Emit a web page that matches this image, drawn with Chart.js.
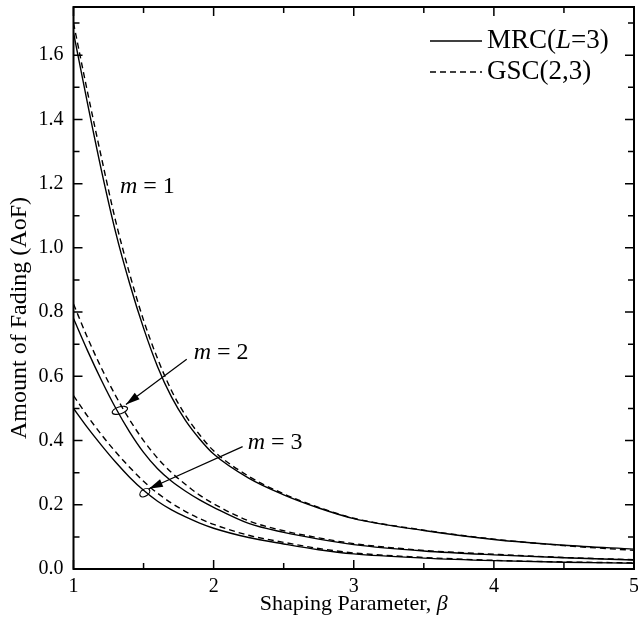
<!DOCTYPE html>
<html>
<head>
<meta charset="utf-8">
<script src="https://cdn.jsdelivr.net/npm/chart.js@4.4.1/dist/chart.umd.min.js"></script>
<style>
html,body{margin:0;padding:0;background:#fff;}
#wrap{width:638px;height:629px;position:relative;}
</style>
</head>
<body>
<div id="wrap"><canvas id="myChart"></canvas></div>
<script>
// shaping parameter beta
var beta=[1,1.1,1.2,1.3,1.4,1.5,1.6,1.7,1.8,1.9,2,2.25,2.5,2.75,3,3.5,4,4.5,5];
// MRC(L=3) solid
var mrc1=[1.67,1.45,1.24,1.05,0.89,0.75,0.63,0.535,0.462,0.405,0.358,0.283,0.231,0.19,0.157,0.12,0.092,0.074,0.062];
var mrc2=[0.78,0.68,0.587,0.502,0.427,0.363,0.312,0.273,0.242,0.215,0.192,0.142,0.114,0.093,0.076,0.056,0.044,0.035,0.028];
var mrc3=[0.50,0.44,0.385,0.333,0.286,0.245,0.211,0.184,0.162,0.143,0.127,0.098,0.078,0.06,0.047,0.034,0.026,0.021,0.018];
// GSC(2,3) dashed
var gsc1=[1.70,1.485,1.28,1.085,0.92,0.775,0.655,0.555,0.478,0.418,0.368,0.289,0.234,0.192,0.158,0.121,0.093,0.073,0.058];
var gsc2=[0.825,0.72,0.625,0.54,0.465,0.40,0.345,0.30,0.263,0.23,0.203,0.15,0.119,0.097,0.079,0.058,0.046,0.036,0.029];
var gsc3=[0.54,0.476,0.418,0.365,0.317,0.273,0.236,0.205,0.179,0.157,0.139,0.105,0.083,0.064,0.05,0.036,0.027,0.022,0.019];

var xTicks=[1,2,3,4,5];
var yTicks=[0,0.2,0.4,0.6,0.8,1.0,1.2,1.4,1.6];

var FONT='"Liberation Serif","Times New Roman",serif';

function pts(arr){
    var out=[];
    for(var i=0;i<beta.length;i++){ out.push({x:beta[i],y:arr[i]}); }
    return out;
}
function ds(arr,dash){
    return {data:pts(arr),borderColor:'#000',borderWidth:1.4,borderDash:dash,pointRadius:0,
        fill:false,cubicInterpolationMode:'monotone'};
}

// rich text: parts = [[text, italic], ...]
function rich(ctx,parts,x,y,size,align){
    var w=0,i;
    for(i=0;i<parts.length;i++){
        ctx.font=(parts[i][1]?'italic ':'')+size+'px '+FONT;
        w+=ctx.measureText(parts[i][0]).width;
    }
    var cx=x;
    if(align==='center') cx=x-w/2;
    ctx.textAlign='left';
    ctx.textBaseline='middle';
    for(i=0;i<parts.length;i++){
        ctx.font=(parts[i][1]?'italic ':'')+size+'px '+FONT;
        ctx.fillText(parts[i][0],cx,y);
        cx+=ctx.measureText(parts[i][0]).width;
    }
}

function arrow(ctx,x1,y1,x2,y2){
    ctx.beginPath();ctx.moveTo(x1,y1);ctx.lineTo(x2,y2);ctx.stroke();
    var a=Math.atan2(y2-y1,x2-x1),L=14,W=4;
    ctx.beginPath();
    ctx.moveTo(x2,y2);
    ctx.lineTo(x2-L*Math.cos(a)+W*Math.sin(a),y2-L*Math.sin(a)-W*Math.cos(a));
    ctx.lineTo(x2-L*Math.cos(a)-W*Math.sin(a),y2-L*Math.sin(a)+W*Math.cos(a));
    ctx.closePath();ctx.fill();
}

var decor={
    id:'decor',
    afterDraw:function(chart){
        var ctx=chart.ctx,a=chart.chartArea,xs=chart.scales.x,ys=chart.scales.y;
        ctx.save();
        ctx.strokeStyle='#000';ctx.fillStyle='#000';
        // inner ticks
        ctx.lineWidth=1.5;
        var v,p,len;
        for(v=1;v<=5.001;v+=0.5){
            p=xs.getPixelForValue(v);
            len=(Math.abs(v-Math.round(v))<0.01)?9:6;
            ctx.beginPath();
            ctx.moveTo(p,a.bottom);ctx.lineTo(p,a.bottom-len);
            ctx.moveTo(p,a.top);ctx.lineTo(p,a.top+len);
            ctx.stroke();
        }
        for(v=0;v<=1.75;v+=0.1){
            p=ys.getPixelForValue(v);
            len=(Math.round(v*10)%2===0)?9:6;
            ctx.beginPath();
            ctx.moveTo(a.left,p);ctx.lineTo(a.left+len,p);
            ctx.moveTo(a.right,p);ctx.lineTo(a.right-len,p);
            ctx.stroke();
        }
        // frame
        ctx.lineWidth=2;
        ctx.strokeRect(a.left,a.top,a.right-a.left,a.bottom-a.top);

        // axis titles
        rich(ctx,[['Shaping Parameter, ',false],['\u03b2',true]],(a.left+a.right)/2,604,22,'center');
        ctx.save();
        ctx.translate(20,(a.top+a.bottom)/2+30);
        ctx.rotate(-Math.PI/2);
        rich(ctx,[['Amount of Fading (AoF)',false]],0,0,24,'center');
        ctx.restore();

        // legend
        ctx.lineWidth=1.4;
        ctx.beginPath();ctx.moveTo(430,41);ctx.lineTo(482,41);ctx.stroke();
        ctx.setLineDash([6,4]);
        ctx.beginPath();ctx.moveTo(430,72);ctx.lineTo(482,72);ctx.stroke();
        ctx.setLineDash([]);
        rich(ctx,[['MRC(',false],['L',true],['=3)',false]],487,41,27,'left');
        rich(ctx,[['GSC(2,3)',false]],487,72,27,'left');

        // annotations
        function X(b){return xs.getPixelForValue(b);}
        function Y(q){return ys.getPixelForValue(q);}
        rich(ctx,[['m',true],[' = 1',false]],X(1.331),Y(1.19),24,'left');
        rich(ctx,[['m',true],[' = 2',false]],X(1.858),Y(0.675),24,'left');
        rich(ctx,[['m',true],[' = 3',false]],X(2.243),Y(0.394),24,'left');
        ctx.lineWidth=1.2;
        arrow(ctx,X(1.808),Y(0.653),X(1.374),Y(0.5125));
        arrow(ctx,X(2.207),Y(0.381),X(1.538),Y(0.25));
        ctx.beginPath();
        ctx.ellipse(X(1.331),Y(0.494),8,3.5,-0.3,0,Math.PI*2);
        ctx.stroke();
        ctx.beginPath();
        ctx.ellipse(X(1.509),Y(0.2375),5.5,3.5,-0.6,0,Math.PI*2);
        ctx.stroke();
        ctx.restore();
    }
};

var ctx=document.getElementById('myChart').getContext('2d');
var chart=new Chart(ctx,{
    type:'line',
    data:{datasets:[ds(mrc1,[]),ds(gsc1,[6,4]),ds(mrc2,[]),ds(gsc2,[6,4]),ds(mrc3,[]),ds(gsc3,[6,4])]},
    options:{
        responsive:true,maintainAspectRatio:false,animation:false,
        layout:{padding:{left:0,top:7,right:4,bottom:0}},
        plugins:{legend:{display:false},tooltip:{enabled:false}},
        scales:{
            x:{type:'linear',min:1,max:5,
                grid:{display:false,drawTicks:false},border:{display:false},
                afterBuildTicks:function(s){s.ticks=xTicks.map(function(v){return {value:v};});},
                afterFit:function(s){s.height=60;s.paddingLeft=0;s.paddingRight=0;},
                ticks:{color:'#000',padding:6,maxRotation:0,font:{family:FONT,size:20},
                    callback:function(v){return String(v);}}
            },
            y:{type:'linear',min:0,max:1.75,
                grid:{display:false,drawTicks:false},border:{display:false},
                afterBuildTicks:function(s){s.ticks=yTicks.map(function(v){return {value:v};});},
                afterFit:function(s){s.width=73.5;s.paddingTop=0;s.paddingBottom=0;},
                ticks:{color:'#000',padding:10,font:{family:FONT,size:20},
                    callback:function(v){return Number(v).toFixed(1);}}
            }
        }
    },
    plugins:[decor]
});
</script>
</body>
</html>
